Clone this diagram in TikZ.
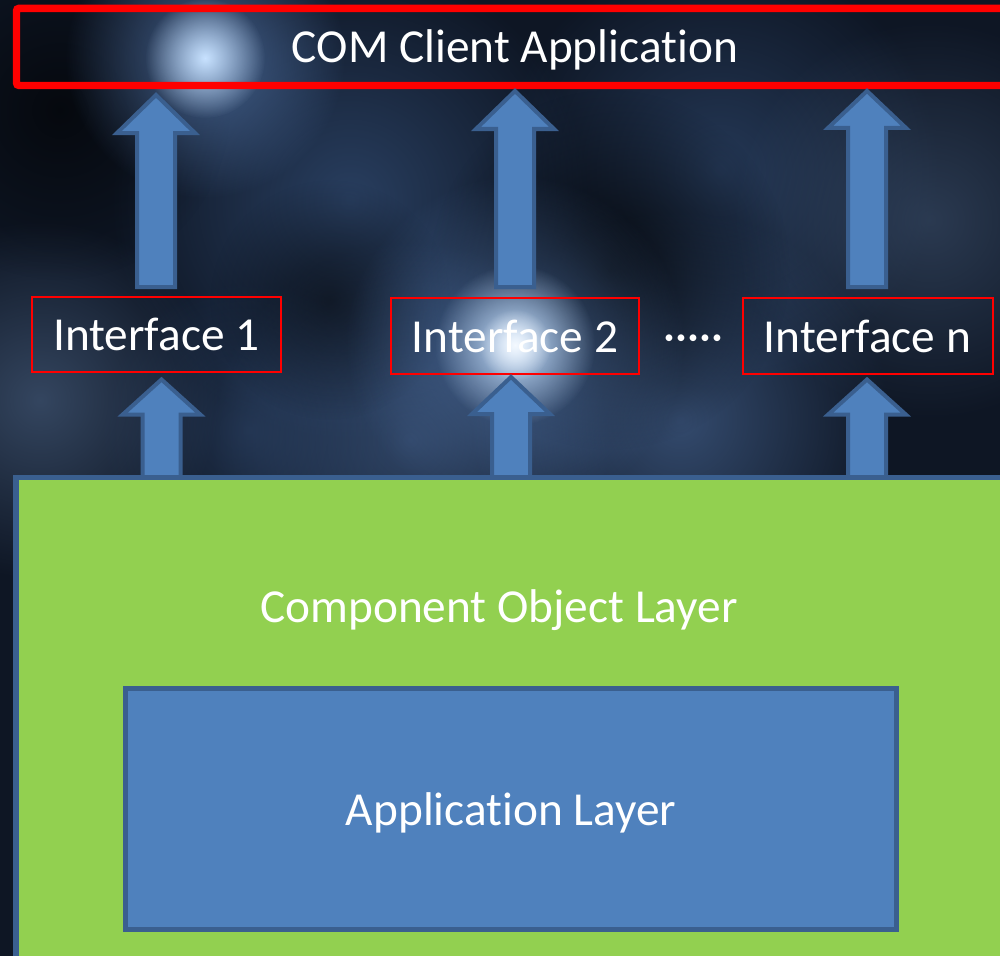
\documentclass[tikz,border=0pt]{standalone}
\usepackage{fontspec}
\newfontfamily\cf[Ligatures=NoCommon]{Carlito}
\usetikzlibrary{fadings}
\definecolor{bgc}{HTML}{0E1624}
\definecolor{redc}{HTML}{FF0000}
\definecolor{arrowfill}{HTML}{4F81BD}
\definecolor{arrowline}{HTML}{3A5F8F}
\definecolor{greenc}{HTML}{92D050}
\definecolor{bluec}{HTML}{4F81BD}
\definecolor{glowa}{HTML}{5A80B8}
\definecolor{glowb}{HTML}{3B5A88}
\definecolor{glowc}{HTML}{C8E2FF}
\definecolor{glowd}{HTML}{4E6688}
\tikzfading[name=glowfade, inner color=transparent!0, outer color=transparent!100]
\tikzset{
  txt/.style={font=\cf\fontsize{35.5}{40}\selectfont, text=white, inner sep=0pt, outer sep=0pt},
  topbox/.style={txt, draw=redc, line width=5.6pt, rounded corners=2pt, text depth=0pt},
  ifbox/.style={txt, draw=redc, line width=1.5pt, text depth=0pt},
  greenbox/.style={draw=arrowline, fill=greenc, line width=4pt, inner sep=0pt, outer sep=0pt},
  bluebox/.style={txt, draw=arrowline, fill=bluec, line width=3.75pt, text depth=0pt},
  arrowblk/.style={draw=arrowline, fill=arrowfill, line width=3pt, line join=miter},
  glow/.style={path fading=glowfade}
}
\newcommand\uparrowshape[4]{%
  \draw[arrowblk] (#1,#2) -- (#1+39,#3) -- (#1+19,#3) -- (#1+19,#4) -- (#1-19,#4) -- (#1-19,#3) -- (#1-39,#3) -- cycle;}
\begin{document}
\begin{tikzpicture}[x=0.75pt,y=-0.75pt]
\useasboundingbox (0,0) rectangle (1000,956);
\clip (0,0) rectangle (1000,956);
% background
\fill[bgc] (0,0) rectangle (1000,956);
\fill[glow, glowb, fill opacity=0.6] (350,200) circle (240);
\fill[glow, glowb, fill opacity=0.5] (720,170) circle (220);
\fill[glow, glowa, fill opacity=0.45] (410,440) circle (200);
\fill[glow, glowa, fill opacity=0.5] (680,420) circle (210);
\fill[glow, glowd, fill opacity=0.6] (40,400) circle (180);
\fill[glow, glowd, fill opacity=0.45] (930,220) circle (200);
\fill[glow, glowb, fill opacity=0.4] (250,430) circle (150);
\fill[glow, black, fill opacity=0.7] (610,270) circle (180);
\fill[glow, black, fill opacity=0.6] (60,110) circle (170);
\fill[glow, black, fill opacity=0.5] (330,300) circle (120);
\fill[glow, glowa, fill opacity=0.7] (205,58) circle (140);
\fill[glow, glowc, fill opacity=1] (205,58) circle (60);
\fill[glow, glowa, fill opacity=0.6] (515,345) circle (170);
\fill[glow, glowc, fill opacity=1] (515,345) circle (80);
\fill[glow, white, fill opacity=0.8] (515,345) circle (36);
% top box
\node[topbox, minimum width=747.75pt, minimum height=57.9pt, text height=24.15pt] (client) at (515,46.9) {COM Client Application};
% interfaces
\node[ifbox, minimum width=187.1pt, minimum height=56.6pt, text height=24.7pt] (i1) at (156.25,334.25) {Interface 1};
\node[ifbox, minimum width=186pt, minimum height=57pt, text height=25pt] (i2) at (515,336) {Interface 2};
\node[ifbox, minimum width=187.5pt, minimum height=57pt, text height=25pt] (in) at (867.5,336) {Interface n};
\node[txt, anchor=base] (dots) at (693.5,351) {·····};
% arrows interfaces -> client
\uparrowshape{156}{95}{133}{287}
\uparrowshape{515}{91}{129}{287}
\uparrowshape{867}{91}{128}{287}
% arrows component layer -> interfaces
\uparrowshape{161.5}{379.5}{414.7}{485}
\uparrowshape{511}{377}{414}{485}
\uparrowshape{867}{379.5}{414.7}{485}
% component object layer
\node[greenbox, minimum width=753pt, minimum height=369.4pt] (col) at (518,723.75) {};
\node[txt, anchor=base] (coltxt) at (499,622.7) {Component Object Layer};
% application layer
\node[bluebox, minimum width=577.9pt, minimum height=181.1pt, text height=25.1pt] (app) at (511.25,809.25) {Application Layer};
\end{tikzpicture}
\end{document}
